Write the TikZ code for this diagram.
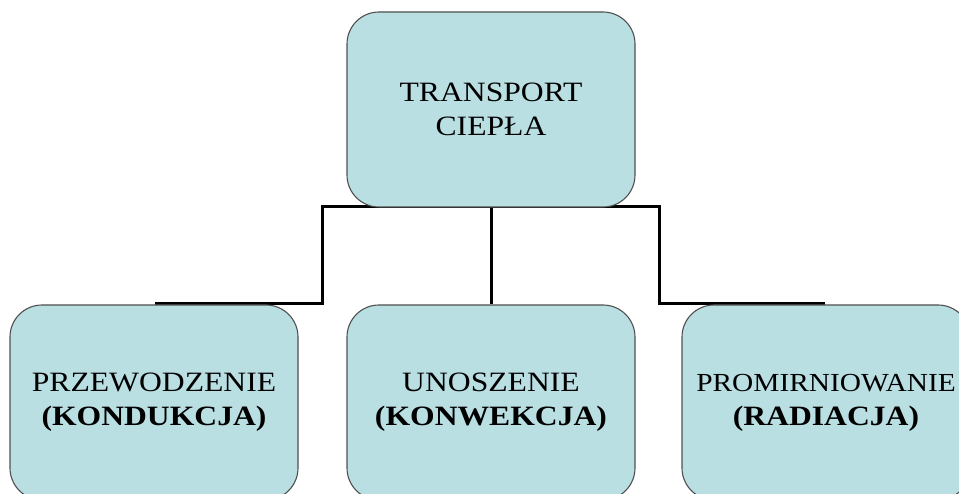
\documentclass[tikz,border=0pt]{standalone}
\usepackage{fontspec}
\setmainfont{Liberation Serif}[FakeStretch=1.13]
\definecolor{boxfill}{RGB}{185,223,227}
\definecolor{boxline}{RGB}{80,80,80}
\begin{document}
\begin{tikzpicture}[x=1pt,y=-1pt,
  box/.style={draw=boxline, line width=1.1pt, fill=boxfill, rounded corners=32pt,
    minimum width=288pt, minimum height=195pt, inner sep=0pt, align=center,
    font=\fontsize{28}{34}\selectfont},
  conn/.style={draw=black, line width=3pt}]
\useasboundingbox (0,0) rectangle (959,494);
\clip (0,0) rectangle (959,494);
\fill[white] (0,0) rectangle (959,494);
% connector geometry
\coordinate (jl) at (322,207);
\coordinate (jr) at (659,207);
\coordinate (jm) at (491,207);
\coordinate (ll) at (155,304);
\coordinate (lm) at (491,304);
\coordinate (lr) at (825,304);
\draw[conn] (ll) -| (jl) -- (jr) |- (lr);
\draw[conn] (jm) -- (lm);
% boxes
\node[box] (T) at (491,109.5) {TRANSPORT\\CIEPŁA};
\node[box] (L) at (154,402.5) {PRZEWODZENIE\\\textbf{(KONDUKCJA)}};
\node[box] (M) at (491,402.5) {UNOSZENIE\\\textbf{(KONWEKCJA)}};
\node[box] (R) at (826,402.5) {{\fontsize{26}{34}\selectfont PROMIRNIOWANIE}\\\textbf{(RADIACJA)}};
\end{tikzpicture}
\end{document}
